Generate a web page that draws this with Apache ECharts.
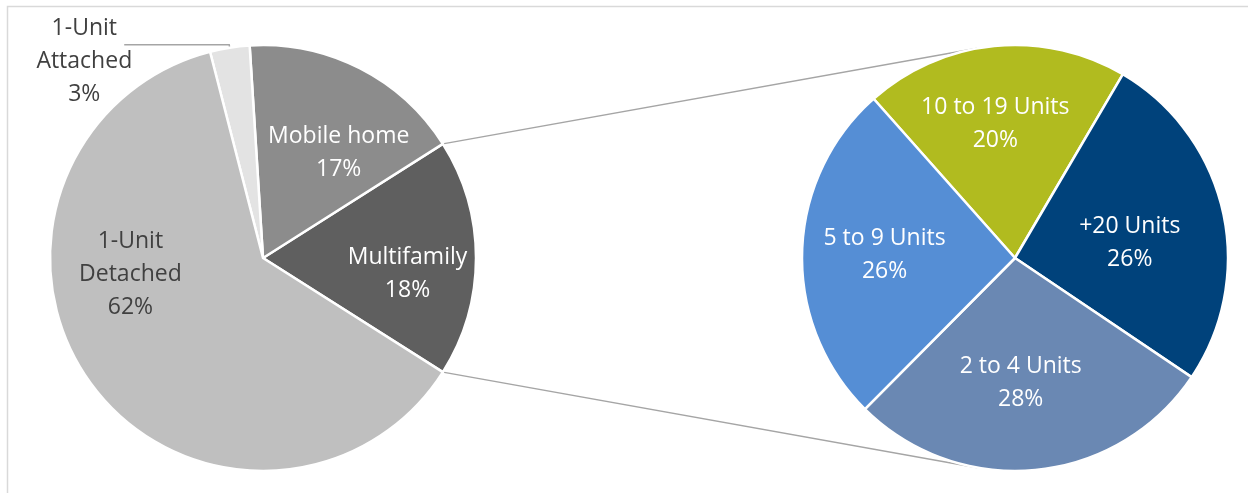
<!DOCTYPE html>
<html><head><meta charset="utf-8">
<script src="https://cdn.jsdelivr.net/npm/echarts@6/dist/echarts.min.js"></script>
<style>html,body{margin:0;padding:0;background:#fff}#c{width:1248px;height:493px}</style>
</head><body><div id="c"></div>
<script>
// ---- data ----
const mainCategories = ['Multifamily', 'Mobile home', '1-Unit Attached', '1-Unit Detached'];
const mainLabels = ['Multifamily', 'Mobile home', '1-Unit\nAttached', '1-Unit\nDetached'];
const mainValues = [18, 17, 3, 62];
const subCategories = ['10 to 19 Units', '+20 Units', '2 to 4 Units', '5 to 9 Units'];
const subValues = [20, 26, 28, 26];

// ---- style / layout ----
const mainColors = ['#5f5f5f', '#8c8c8c', '#e3e3e3', '#bfbfbf'];
const mainTextColors = ['#ffffff', '#ffffff', '#404040', '#404040'];
const subColors = ['#b1bb1f', '#00427b', '#6a88b3', '#558ed5'];
const mainOffsets = {'Multifamily': [35, 16], 'Mobile home': [26, -7], '1-Unit Detached': [-44, -48]};
const subOffsets = {'10 to 19 Units': [-9, -25], '+20 Units': [8, 9], '2 to 4 Units': [-5, 16], '5 to 9 Units': [-21, 0]};
const leftC = [263, 258], rightC = [1015, 258], R = 213;
const FONT = 'Open Sans';

const sumMain = mainValues.reduce((a, b) => a + b, 0);
const halfDeg = mainValues[0] / sumMain * 180;

function connectors() {
  const a = halfDeg * Math.PI / 180;
  const p1 = [leftC[0] + R * Math.cos(a), leftC[1] - R * Math.sin(a)];
  const p2 = [leftC[0] + R * Math.cos(a), leftC[1] + R * Math.sin(a)];
  const vx = p1[0] - rightC[0], vy = rightC[1] - p1[1];
  const d = Math.sqrt(vx * vx + vy * vy);
  const phi = Math.atan2(vy, vx);
  const th = phi - Math.acos(R / d);
  const t1 = [rightC[0] + R * Math.cos(th), rightC[1] - R * Math.sin(th)];
  const t2 = [rightC[0] + R * Math.cos(th), rightC[1] + R * Math.sin(th)];
  return [[p1, t1], [p2, t2]];
}

const lines = connectors().map(pts => ({
  type: 'line', z: 0, silent: true,
  shape: {x1: pts[0][0], y1: pts[0][1], x2: pts[1][0], y2: pts[1][1]},
  style: {stroke: '#a5a5a5', lineWidth: 1.5}
}));

const chart = echarts.init(document.getElementById('c'), null, {renderer: 'canvas'});
chart.setOption({
  animation: false,
  backgroundColor: '#ffffff',
  graphic: [
    {type: 'polyline', z: 0, silent: true,
     shape: {points: [[7.5, 493], [7.5, 6.5], [1248, 6.5]]},
     style: {stroke: '#d9d9d9', lineWidth: 1.5, fill: null}}
  ].concat(lines),
  series: [
    {
      type: 'pie', z: 5,
      center: leftC, radius: R,
      startAngle: -halfDeg, clockwise: false,
      avoidLabelOverlap: false,
      emphasis: {disabled: true},
      itemStyle: {borderColor: '#ffffff', borderWidth: 2.5},
      label: {
        position: 'inside', fontFamily: FONT, fontSize: 23, lineHeight: 33,
        formatter: p => mainLabels[p.dataIndex] + '\n' + p.value + '%'
      },
      labelLayout: function (params) {
        const name = mainCategories[params.dataIndex];
        if (name === '1-Unit Attached') {
          const r = params.labelRect;
          return {
            x: r.x + r.width / 2 + 13, y: r.y + r.height / 2 + 17,
            align: 'center', verticalAlign: 'middle',
            labelLinePoints: params.labelLinePoints
          };
        }
        const o = mainOffsets[name] || [0, 0];
        return {dx: o[0], dy: o[1]};
      },
      data: mainCategories.map((n, i) => {
        const item = {
          name: n, value: mainValues[i],
          itemStyle: {color: mainColors[i]},
          label: {color: mainTextColors[i]}
        };
        if (n === '1-Unit Attached') {
          item.label = {position: 'outside', color: mainTextColors[i], align: 'center', distanceToLabelLine: 5};
          item.labelLine = {show: true, length: 3, length2: 105, lineStyle: {color: '#a5a5a5', width: 1.5}};
        }
        return item;
      })
    },
    {
      type: 'pie', z: 5,
      center: rightC, radius: R,
      startAngle: 131.6, clockwise: true,
      emphasis: {disabled: true},
      itemStyle: {borderColor: '#ffffff', borderWidth: 2.5},
      label: {
        position: 'inside', fontFamily: FONT, fontSize: 23, lineHeight: 33, color: '#ffffff',
        formatter: p => subCategories[p.dataIndex] + '\n' + p.value + '%'
      },
      labelLayout: function (params) {
        const o = subOffsets[subCategories[params.dataIndex]] || [0, 0];
        return {dx: o[0], dy: o[1]};
      },
      data: subCategories.map((n, i) => ({name: n, value: subValues[i], itemStyle: {color: subColors[i]}}))
    }
  ]
});
</script></body></html>
